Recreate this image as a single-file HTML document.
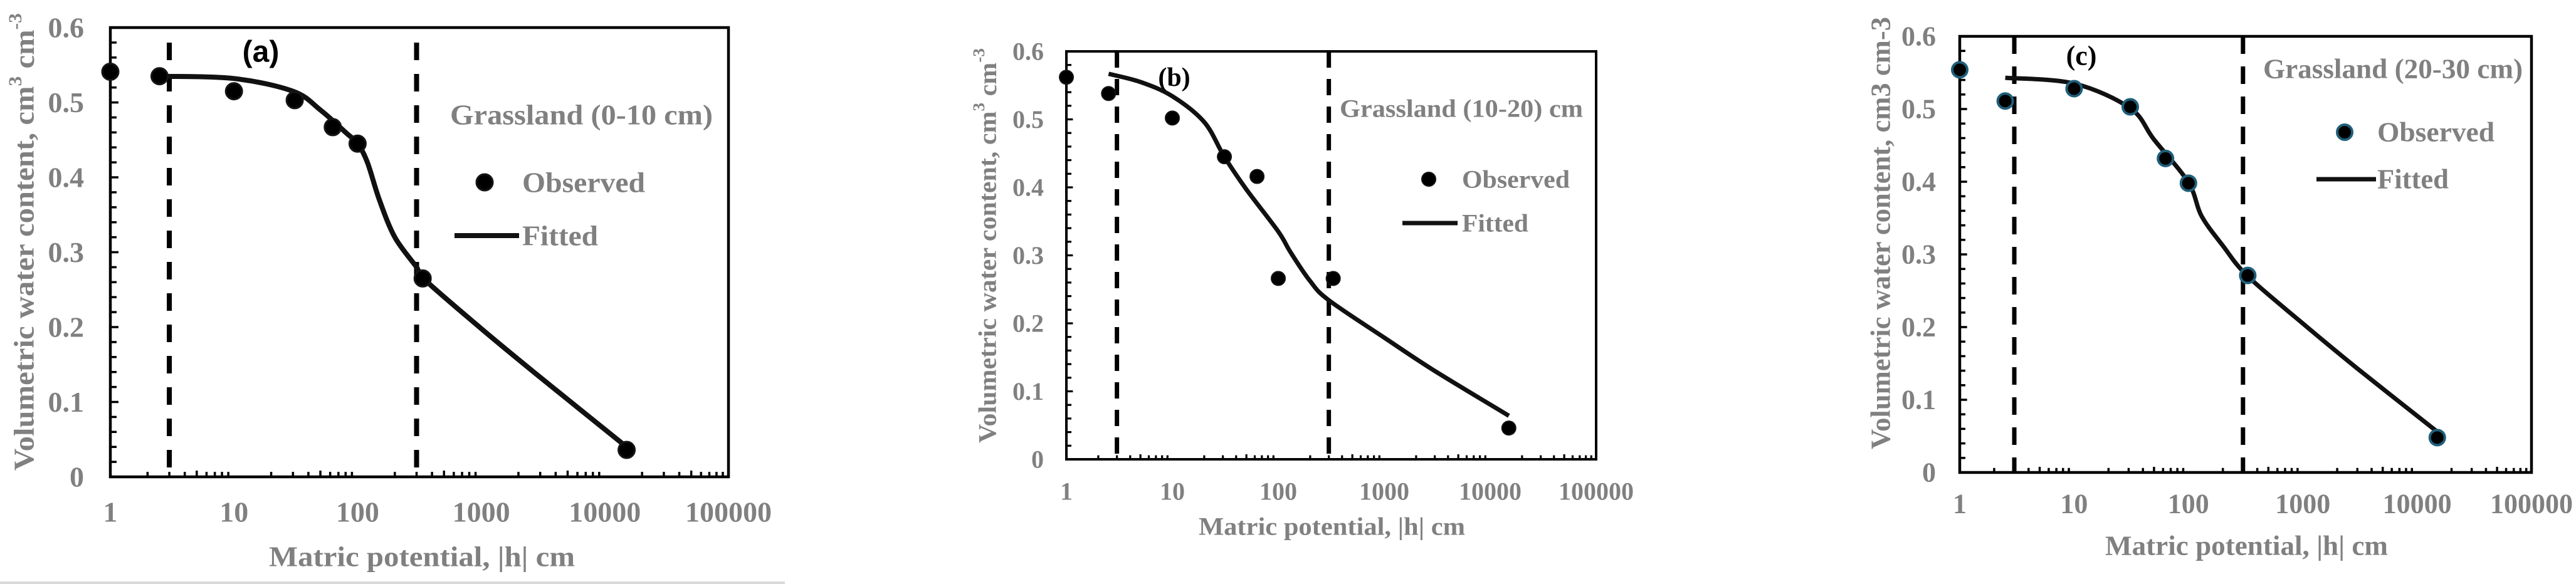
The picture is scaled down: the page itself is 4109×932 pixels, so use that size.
<!DOCTYPE html>
<html><head><meta charset="utf-8"><style>
html,body{margin:0;padding:0;background:#fff;}
svg{display:block;}
text{font-family:"Liberation Serif",serif;font-weight:bold;}
</style></head><body>
<svg id="chart" width="4109" height="932" viewBox="0 0 4109 932" xmlns="http://www.w3.org/2000/svg">
<rect x="0" y="0" width="4109" height="932" fill="#fff"/>
<rect x="0" y="928" width="1252" height="4" fill="#d9d9d9"/>
</svg>
<script>
// Shared axis data
const xTickLabels = ["1","10","100","1000","10000","100000"];
const yTickLabels = ["0","0.1","0.2","0.3","0.4","0.5","0.6"];
const dashedLines = [3, 300];

// Panel (a) Grassland 0-10 cm
const obsHA = [1, 2.5, 10, 31, 63, 100, 336, 15000];
const obsThetaA = [0.541, 0.535, 0.515, 0.503, 0.467, 0.445, 0.265, 0.036];
const fitHA = [2.7, 10, 30, 50, 80, 100, 120, 150, 200, 300, 340, 1000, 3000, 15000];
const fitThetaA = [0.535, 0.532, 0.515, 0.49, 0.46, 0.445, 0.42, 0.37, 0.32, 0.28, 0.265, 0.198, 0.133, 0.04];

// Panel (b) Grassland 10-20 cm
const obsHB = [1, 2.5, 10, 31, 63, 100, 330, 15000];
const obsThetaB = [0.562, 0.538, 0.502, 0.445, 0.416, 0.266, 0.266, 0.046];
const fitHB = [2.5, 5, 10, 20, 31, 50, 100, 130, 200, 300, 1000, 3000, 15000];
const fitThetaB = [0.567, 0.555, 0.534, 0.496, 0.445, 0.397, 0.335, 0.305, 0.262, 0.234, 0.179, 0.13, 0.064];

// Panel (c) Grassland 20-30 cm
const obsHC = [1, 2.5, 10, 31, 63, 100, 330, 15000];
const obsThetaC = [0.554, 0.511, 0.528, 0.503, 0.432, 0.398, 0.271, 0.048];
const fitHC = [2.5, 10, 31, 50, 100, 130, 200, 330, 1000, 3000, 15000];
const fitThetaC = [0.543, 0.535, 0.501, 0.458, 0.399, 0.353, 0.312, 0.27, 0.205, 0.143, 0.056];

const NS = "http://www.w3.org/2000/svg";
const svg = document.getElementById('chart');
function mk(tag, attrs, parent){
  const e = document.createElementNS(NS, tag);
  for (const k in attrs) e.setAttribute(k, attrs[k]);
  (parent||svg).appendChild(e);
  return e;
}
function catmull(pts){
  let d = "M" + pts[0][0].toFixed(1) + "," + pts[0][1].toFixed(1);
  for (let i=0;i<pts.length-1;i++){
    const p0 = pts[i-1]||pts[i], p1 = pts[i], p2 = pts[i+1], p3 = pts[i+2]||p2;
    const c1 = [p1[0]+(p2[0]-p0[0])/6, p1[1]+(p2[1]-p0[1])/6];
    const c2 = [p2[0]-(p3[0]-p1[0])/6, p2[1]-(p3[1]-p1[1])/6];
    d += " C"+c1[0].toFixed(1)+","+c1[1].toFixed(1)+" "+c2[0].toFixed(1)+","+c2[1].toFixed(1)+" "+p2[0].toFixed(1)+","+p2[1].toFixed(1);
  }
  return d;
}

function panel(cfg){
  const g = mk('g', {});
  
  
  const L=cfg.left, R=cfg.right, T=cfg.top, B=cfg.bottom;
  const xs = v => L + Math.log10(v) * (R-L)/5;
  const ys = v => B - v/0.6 * (B-T);
  const sw = cfg.sw;

  // ticks
  for (let d=0; d<5; d++){
    for (let m=1; m<10; m++){
      const x = xs(Math.pow(10,d)*m);
      const len = m===1 ? 0 : (m===5 ? cfg.tick : cfg.tick*0.8);
      if (len>0){ const t = mk('line',{x1:x,y1:B,x2:x,y2:B-len,stroke:'#000','stroke-width':sw}, g);
          }
    }
  }
  for (let i=1;i<30;i++){
    const y = ys(i*0.02);
    const len = (i%5===0)? cfg.tick*1.3 : cfg.tick;
    const t = mk('line',{x1:L,y1:y,x2:L+len,y2:y,stroke:'#000','stroke-width':sw}, g);
     
  }
  // dashed lines
  dashedLines.forEach(h=>{
    const dl = mk('line',{x1:xs(h),y1:cfg.dashTop,x2:xs(h),y2:B,stroke:'#000','stroke-width':cfg.dashW,'stroke-dasharray':cfg.dash}, g);
    
    
  });
  // frame
  const fr = mk('rect',{x:L,y:T,width:R-L,height:B-T,fill:'none',stroke:'#000','stroke-width':cfg.frameW}, g);
  
  

  // tick labels
  xTickLabels.forEach((s,i)=>{
    const t = mk('text',{x:L+i*(R-L)/5,y:cfg.xLabY,'font-size':cfg.fs,fill:'#808080','text-anchor':'middle','dominant-baseline':'central'}, g);
    t.textContent = s;
    
    
  });
  yTickLabels.forEach((s,i)=>{
    const t = mk('text',{x:cfg.yLabX,y:ys(i*0.1),'font-size':cfg.fs,fill:'#808080','text-anchor':'end','dominant-baseline':'central'}, g);
    t.textContent = s;
    
    
  });

  // fitted curve
  const pts = cfg.fitH.map((h,i)=>[xs(h), ys(cfg.fitT[i])]);
  const fc = mk('path',{d:catmull(pts),fill:'none',stroke:'#111','stroke-width':cfg.lineW,'stroke-linejoin':'round'}, g);
  
  

  // observed points
  cfg.obsH.forEach((h,i)=>{
    const c = mk('circle',{cx:xs(h),cy:ys(cfg.obsT[i]),r:cfg.r,fill:'#000',stroke:cfg.mStroke,'stroke-width':cfg.mSW}, g);
    
    
  });

  // panel label
  const pl = mk('text',{x:cfg.plX,y:cfg.plY,'font-size':cfg.plFs,fill:'#000','text-anchor':'middle','dominant-baseline':'central',style:cfg.plStyle||''}, g);
  pl.textContent = cfg.plText;
  
  

  // site title
  const st = mk('text',{x:cfg.gX,y:cfg.gY,'font-size':cfg.fs,fill:'#808080','dominant-baseline':'central',textLength:cfg.gW,lengthAdjust:'spacingAndGlyphs'}, g);
  st.textContent = cfg.gText;
  
  

  // legend
  const lm = mk('circle',{cx:cfg.lmX,cy:cfg.lmY,r:cfg.r,fill:'#000',stroke:cfg.mStroke,'stroke-width':cfg.mSW}, g);
  
  
  const lo = mk('text',{x:cfg.ltX,y:cfg.lmY,'font-size':cfg.fs,fill:'#808080','dominant-baseline':'central',textLength:cfg.oW,lengthAdjust:'spacingAndGlyphs'}, g);
  lo.textContent = 'Observed';
  
  
  const ll = mk('line',{x1:cfg.llX1,y1:cfg.llY,x2:cfg.llX2,y2:cfg.llY,stroke:'#111','stroke-width':cfg.lineW}, g);
  
  
  const lf = mk('text',{x:cfg.ltX,y:cfg.llY,'font-size':cfg.fs,fill:'#808080','dominant-baseline':'central',textLength:cfg.fW,lengthAdjust:'spacingAndGlyphs'}, g);
  lf.textContent = 'Fitted';
  
  

  // axis titles
  const xt = mk('text',{x:cfg.xtX,y:cfg.xtY,'font-size':cfg.fs,fill:'#808080','dominant-baseline':'central',textLength:cfg.xtW,lengthAdjust:'spacingAndGlyphs'}, g);
  xt.textContent = 'Matric potential, |h| cm';
  
  
  const yt = mk('text',{x:0,y:0,'font-size':cfg.fs,fill:'#808080','text-anchor':'middle','dominant-baseline':'central',transform:'translate('+cfg.ytX+','+cfg.ytY+') rotate(-90)',textLength:cfg.ytW,lengthAdjust:'spacingAndGlyphs'}, g);
  if (cfg.sup){
    yt.innerHTML = 'Volumetric water content, cm<tspan dy="-14" font-size="'+(cfg.fs*0.65)+'">3</tspan><tspan dy="14"> cm</tspan><tspan dy="-14" font-size="'+(cfg.fs*0.65)+'">-3</tspan>';
  } else {
    yt.textContent = 'Volumetric water content, cm3 cm-3';
  }
  
  
}

panel({id:'a',left:176,right:1162,top:44,bottom:761,sw:3.5,frameW:4.5,tick:10,dashTop:68,dashW:8,dash:'28 22',lineW:8,r:13,mStroke:'#151515',mSW:3,
  fs:46,xLabY:817,yLabX:134,fitH:fitHA,fitT:fitThetaA,obsH:obsHA,obsT:obsThetaA,
  plX:416,plY:83,plFs:48,plText:'(a)',plStyle:'font-family:"Liberation Sans Narrow","Liberation Sans",sans-serif;',
  gX:718,gY:183,gW:419,gText:'Grassland (0-10 cm)',lmX:773,lmY:291,ltX:833,oW:196,llX1:725,llX2:828,llY:376,fW:121,
  xtX:429,xtY:888,xtW:488,ytX:38,ytY:386,ytW:730,sup:true});

panel({id:'b',left:1701,right:2546,top:82,bottom:733,sw:3.2,frameW:4,tick:8,dashTop:82,dashW:7,dash:'26 18',lineW:7,r:11,mStroke:'#151515',mSW:2,
  fs:40,xLabY:784,yLabX:1665,fitH:fitHB,fitT:fitThetaB,obsH:obsHB,obsT:obsThetaB,
  plX:1873,plY:124,plFs:42,plText:'(b)',
  gX:2137,gY:173,gW:388,gText:'Grassland (10-20) cm',lmX:2279,lmY:286,ltX:2332,oW:172,llX1:2237,llX2:2325,llY:356,fW:106,
  xtX:1912,xtY:840,xtW:425,ytX:1575,ytY:392,ytW:630,sup:true});

panel({id:'c',left:3126,right:4038,top:58,bottom:754,sw:3.5,frameW:4.5,tick:9,dashTop:58,dashW:7,dash:'28 20',lineW:7,r:12,mStroke:'#1f5f7a',mSW:4,
  fs:44,xLabY:804,yLabX:3088,fitH:fitHC,fitT:fitThetaC,obsH:obsHC,obsT:obsThetaC,
  plX:3320,plY:89,plFs:44,plText:'(c)',
  gX:3610,gY:110,gW:414,gText:'Grassland (20-30 cm)',lmX:3740,lmY:211,ltX:3792,oW:187,llX1:3695,llX2:3790,llY:286,fW:114,
  xtX:3358,xtY:871,xtW:451,ytX:3000,ytY:372,ytW:690,sup:false});
</script>
</body></html>
